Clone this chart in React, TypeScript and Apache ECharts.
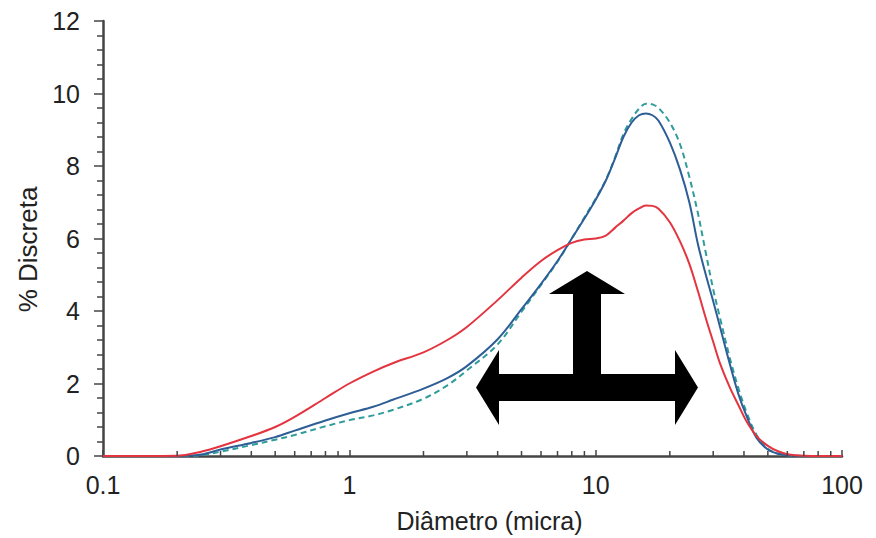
import React, { useEffect, useRef } from "react";
import * as echarts from "echarts";

// Particle diameters (microns) shared by the three distributions
const diameters = [
  0.1, 0.2, 0.25, 0.3, 0.4, 0.5, 0.6, 0.8, 1, 1.25, 1.5, 2, 2.5, 3, 4, 5, 6, 7, 8, 9,
  10, 11, 12, 13, 14, 15, 16, 17, 18, 20, 22, 24, 26, 28, 30, 32, 35, 38, 41, 45, 50,
  55, 60, 70, 100,
];

// % discrete, red curve
const redValues = [
  0, 0.01, 0.12, 0.27, 0.55, 0.8, 1.08, 1.6, 2.0, 2.33, 2.56, 2.86, 3.2, 3.56, 4.3,
  4.92, 5.38, 5.68, 5.88, 5.97, 6.0, 6.08, 6.3, 6.5, 6.7, 6.83, 6.91, 6.9, 6.82, 6.45,
  5.92, 5.3, 4.55, 3.8, 3.15, 2.55, 1.9, 1.4, 0.95, 0.55, 0.28, 0.13, 0.05, 0.01, 0,
];

// % discrete, solid blue curve
const blueValues = [
  0, 0, 0.04, 0.18, 0.36, 0.52, 0.7, 0.98, 1.18, 1.36, 1.55, 1.86, 2.15, 2.48, 3.22,
  4.05, 4.75, 5.38, 6.0, 6.55, 7.07, 7.6, 8.22, 8.82, 9.2, 9.4, 9.45, 9.4, 9.25, 8.65,
  7.9, 7.0, 5.85, 5.0, 4.27, 3.55, 2.55, 1.7, 1.1, 0.5, 0.18, 0.06, 0.02, 0, 0,
];

// % discrete, dashed teal curve
const dashedValues = [
  0, 0, 0.02, 0.12, 0.3, 0.45, 0.58, 0.82, 0.99, 1.12, 1.27, 1.58, 1.95, 2.36, 3.08,
  3.98, 4.72, 5.36, 6.0, 6.58, 7.1, 7.62, 8.25, 8.9, 9.3, 9.58, 9.72, 9.7, 9.6, 9.2,
  8.6, 7.7, 6.7, 5.6, 4.6, 3.8, 2.72, 1.86, 1.2, 0.58, 0.2, 0.07, 0.02, 0, 0,
];

// Intermediate log-decade ticks on the diameter axis
const xMinorTicks = [
  0.2, 0.3, 0.4, 0.5, 0.6, 0.7, 0.8, 0.9, 2, 3, 4, 5, 6, 7, 8, 9, 20, 30, 40, 50, 60,
  70, 80, 90,
];

const xAxisTitle = "Diâmetro (micra)";
const yAxisTitle = "% Discreta";

const FONT = "'Liberation Sans', Arial, sans-serif";
const AXIS_COLOR = "#444";
const TEXT_COLOR = "#222";

const pairs = (vals: number[]) => diameters.map((d, i) => [d, vals[i]]);

export default function App() {
  const ref = useRef<HTMLDivElement>(null);

  useEffect(() => {
    if (!ref.current) return;
    const chart = echarts.init(ref.current, null, { renderer: "svg" });

    const lineSeries = (name: string, vals: number[], color: string, dashed = false) => ({
      name,
      type: "line",
      data: pairs(vals),
      smooth: 0.35,
      showSymbol: false,
      symbol: "none",
      lineStyle: {
        color,
        width: 2,
        type: dashed ? [6, 4] : "solid",
      },
      z: 3,
    });

    chart.setOption({
      animation: false,
      backgroundColor: "#fff",
      grid: {
        left: 103,
        right: 34,
        top: 21,
        bottom: 82,
        containLabel: false,
        outerBoundsMode: "none",
      },
      xAxis: {
        type: "log",
        logBase: 10,
        min: 0.1,
        max: 100,
        name: xAxisTitle,
        nameLocation: "middle",
        nameGap: 52,
        nameTextStyle: {
          color: TEXT_COLOR,
          fontSize: 25,
          lineHeight: 26,
          fontFamily: FONT,
          padding: [0, 0, 0, 34],
        },
        axisLine: { show: true, lineStyle: { color: AXIS_COLOR, width: 2.5 } },
        axisTick: { show: true, inside: true, length: 6, lineStyle: { color: AXIS_COLOR, width: 1.5 } },
        axisLabel: {
          color: TEXT_COLOR,
          fontSize: 25,
          fontFamily: FONT,
          margin: 16,
          formatter: (v: number) => String(v),
        },
        splitLine: { show: false },
      },
      yAxis: {
        type: "value",
        min: 0,
        max: 12,
        interval: 2,
        name: yAxisTitle,
        nameLocation: "middle",
        nameGap: 59,
        nameRotate: 90,
        nameTextStyle: {
          color: TEXT_COLOR,
          fontSize: 26,
          fontFamily: FONT,
          padding: [0, 22, 0, 0],
        },
        axisLine: { show: true, lineStyle: { color: AXIS_COLOR, width: 2.5 } },
        axisTick: { show: true, inside: false, length: 9, lineStyle: { color: AXIS_COLOR, width: 1.5 } },
        minorTick: { show: true, splitNumber: 5, length: 6, lineStyle: { color: AXIS_COLOR, width: 1.5 } },
        axisLabel: { color: TEXT_COLOR, fontSize: 25, fontFamily: FONT, margin: 23 },
        splitLine: { show: false },
        minorSplitLine: { show: false },
      },
      series: [
        lineSeries("dashed", dashedValues, "#2e9c9a", true),
        lineSeries("blue", blueValues, "#2d5e96"),
        lineSeries("red", redValues, "#e3343f"),
        {
          type: "custom",
          name: "minorTicks",
          data: xMinorTicks.map((d) => [d, 0]),
          silent: true,
          z: 5,
          renderItem: (_params: any, api: any) => {
            const p = api.coord([api.value(0), 0]);
            return {
              type: "line",
              shape: { x1: p[0], y1: p[1], x2: p[0], y2: p[1] - 5 },
              style: { stroke: AXIS_COLOR, lineWidth: 1.5 },
            };
          },
        },
      ],
      graphic: [
        {
          type: "polygon",
          z: 10,
          shape: {
            points: [
              [587, 271],
              [625, 294],
              [601, 294],
              [601, 374],
              [675, 374],
              [675, 350],
              [698, 387.5],
              [675, 425],
              [675, 401],
              [499, 401],
              [499, 425],
              [476, 387.5],
              [499, 350],
              [499, 374],
              [573, 374],
              [573, 294],
              [549, 294],
            ],
          },
          style: { fill: "#000" },
        },
      ],
    });

    return () => chart.dispose();
  }, []);

  return (
    <div
      ref={ref}
      style={{ position: "fixed", left: 0, top: 0, width: 876, height: 538, background: "#fff" }}
    />
  );
}
